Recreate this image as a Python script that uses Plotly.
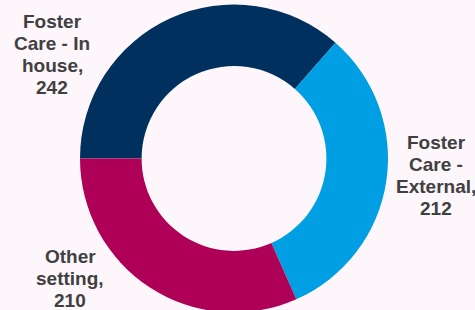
import textwrap
import plotly.graph_objects as go

labels = ["Foster Care - In house", "Foster Care - External", "Other setting"]
values = [242, 212, 210]
colors = ["#00305E", "#009FE3", "#AE0056"]

W, H = 475, 317
# label placement: centre x (px) and first-line centre y (px)
label_cx = [52, 436, 70]
label_top = [21.7, 142.5, 256.7]
line_pitch = 22

fig = go.Figure(go.Pie(
    labels=labels,
    values=values,
    hole=0.6,
    sort=False,
    direction="clockwise",
    rotation=270,
    marker=dict(colors=colors, line=dict(width=0)),
    textinfo="none",
    showlegend=False,
    domain=dict(x=[(234 - 154) / W, (234 + 154) / W], y=[0, 1]),
))

for lab, val, cx, top in zip(labels, values, label_cx, label_top):
    lines = textwrap.wrap(f"{lab},", width=9) + [str(val)]
    for i, l in enumerate(lines):
        fig.add_annotation(
            x=cx / W, y=1 - (top + i * line_pitch) / H, xref="paper", yref="paper",
            text=f"<b>{l}</b>",
            showarrow=False, xanchor="center", yanchor="middle", align="center",
            font=dict(family="Liberation Sans, Arial, sans-serif", size=19, color="#404040"),
        )

fig.update_layout(
    width=W, height=H,
    margin=dict(l=0, r=0, t=0, b=0),
    paper_bgcolor="#FDF6FB",
    plot_bgcolor="#FDF6FB",
)

fig.write_html(
    "out.html",
    config={"displayModeBar": False},
    post_script="document.body.style.margin='0';document.body.style.overflow='hidden';document.body.style.background='#FDF6FB';",
)
